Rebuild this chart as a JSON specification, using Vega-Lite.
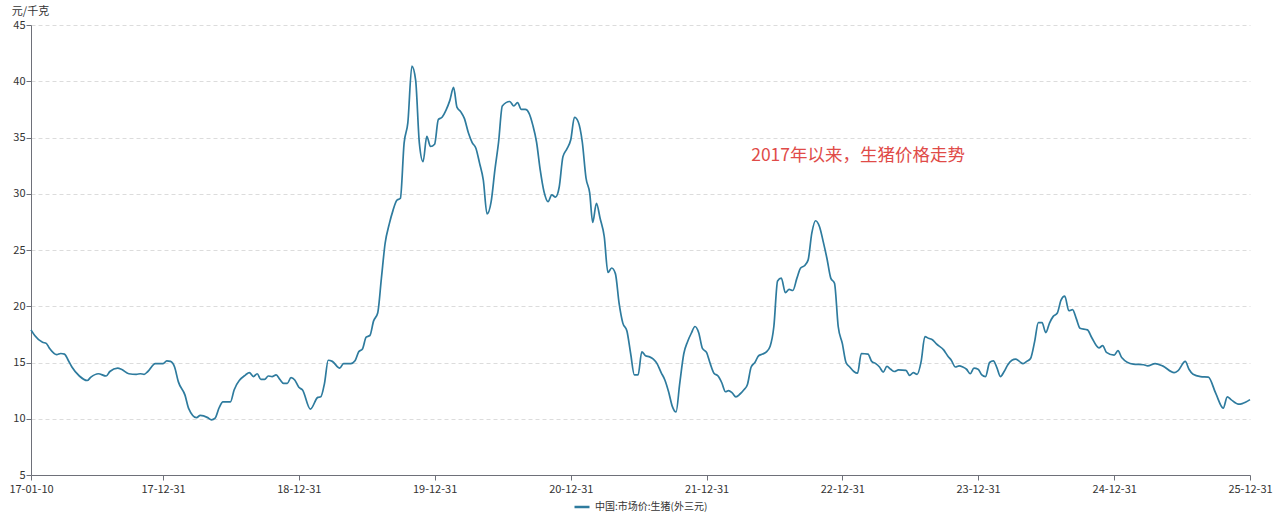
{
  "$schema": "https://vega.github.io/schema/vega-lite/v6.json",
  "width": 1219,
  "height": 450,
  "autosize": {"type": "none"},
  "padding": {"left": 31, "top": 25, "right": 28, "bottom": 41},
  "background": "white",
  "config": {
    "view": {"stroke": null},
    "font": "Noto Sans CJK SC",
    "axis": {"labelFont": "Noto Sans CJK SC", "titleFont": "Noto Sans CJK SC"}
  },
  "layer": [
    {
      "data": {"values": [
        {"date": "2017-01-10", "value": 17.9},
        {"date": "2017-01-20", "value": 17.4},
        {"date": "2017-02-10", "value": 16.8},
        {"date": "2017-02-20", "value": 16.7},
        {"date": "2017-02-28", "value": 16.3},
        {"date": "2017-03-20", "value": 15.7},
        {"date": "2017-03-31", "value": 15.8},
        {"date": "2017-04-10", "value": 15.75},
        {"date": "2017-04-20", "value": 15.2},
        {"date": "2017-04-30", "value": 14.6},
        {"date": "2017-05-20", "value": 13.8},
        {"date": "2017-06-10", "value": 13.4},
        {"date": "2017-06-20", "value": 13.7},
        {"date": "2017-07-10", "value": 14.0},
        {"date": "2017-07-31", "value": 13.8},
        {"date": "2017-08-10", "value": 14.2},
        {"date": "2017-08-31", "value": 14.5},
        {"date": "2017-09-10", "value": 14.4},
        {"date": "2017-09-30", "value": 14.0},
        {"date": "2017-10-20", "value": 13.95},
        {"date": "2017-10-31", "value": 14.0},
        {"date": "2017-11-10", "value": 13.95},
        {"date": "2017-11-20", "value": 14.2},
        {"date": "2017-12-10", "value": 14.9},
        {"date": "2017-12-31", "value": 14.9},
        {"date": "2018-01-10", "value": 15.15},
        {"date": "2018-01-20", "value": 15.1},
        {"date": "2018-01-31", "value": 14.6},
        {"date": "2018-02-10", "value": 13.3},
        {"date": "2018-02-28", "value": 12.1},
        {"date": "2018-03-10", "value": 10.9},
        {"date": "2018-03-31", "value": 10.1},
        {"date": "2018-04-10", "value": 10.3},
        {"date": "2018-04-30", "value": 10.1},
        {"date": "2018-05-10", "value": 9.9},
        {"date": "2018-05-20", "value": 10.05},
        {"date": "2018-05-31", "value": 11.0},
        {"date": "2018-06-10", "value": 11.5},
        {"date": "2018-06-30", "value": 11.5},
        {"date": "2018-07-10", "value": 12.55},
        {"date": "2018-08-10", "value": 13.9},
        {"date": "2018-08-20", "value": 14.1},
        {"date": "2018-08-31", "value": 13.75},
        {"date": "2018-09-10", "value": 14.0},
        {"date": "2018-09-20", "value": 13.5},
        {"date": "2018-09-30", "value": 13.5},
        {"date": "2018-10-10", "value": 13.8},
        {"date": "2018-10-20", "value": 13.75},
        {"date": "2018-10-31", "value": 13.9},
        {"date": "2018-11-10", "value": 13.5},
        {"date": "2018-11-20", "value": 13.15},
        {"date": "2018-11-30", "value": 13.15},
        {"date": "2018-12-10", "value": 13.65},
        {"date": "2018-12-20", "value": 13.45},
        {"date": "2018-12-31", "value": 12.8},
        {"date": "2019-01-10", "value": 12.55},
        {"date": "2019-01-31", "value": 10.85},
        {"date": "2019-02-20", "value": 11.9},
        {"date": "2019-02-28", "value": 11.95},
        {"date": "2019-03-10", "value": 13.15},
        {"date": "2019-03-20", "value": 15.2},
        {"date": "2019-03-31", "value": 15.1},
        {"date": "2019-04-20", "value": 14.5},
        {"date": "2019-04-30", "value": 14.9},
        {"date": "2019-05-20", "value": 14.9},
        {"date": "2019-05-31", "value": 15.15},
        {"date": "2019-06-10", "value": 15.95},
        {"date": "2019-06-20", "value": 16.2},
        {"date": "2019-06-30", "value": 17.25},
        {"date": "2019-07-10", "value": 17.4},
        {"date": "2019-07-20", "value": 18.7},
        {"date": "2019-07-31", "value": 19.4},
        {"date": "2019-08-10", "value": 22.5},
        {"date": "2019-08-20", "value": 25.6},
        {"date": "2019-08-31", "value": 27.3},
        {"date": "2019-09-10", "value": 28.5},
        {"date": "2019-09-20", "value": 29.4},
        {"date": "2019-09-30", "value": 29.6},
        {"date": "2019-10-10", "value": 34.5},
        {"date": "2019-10-20", "value": 36.3},
        {"date": "2019-10-31", "value": 41.35},
        {"date": "2019-11-10", "value": 40.1},
        {"date": "2019-11-20", "value": 34.5},
        {"date": "2019-11-30", "value": 32.85},
        {"date": "2019-12-10", "value": 35.1},
        {"date": "2019-12-20", "value": 34.2},
        {"date": "2019-12-31", "value": 34.4},
        {"date": "2020-01-10", "value": 36.6},
        {"date": "2020-01-20", "value": 36.8},
        {"date": "2020-01-31", "value": 37.45},
        {"date": "2020-02-10", "value": 38.3},
        {"date": "2020-02-20", "value": 39.45},
        {"date": "2020-02-29", "value": 37.7},
        {"date": "2020-03-10", "value": 37.3},
        {"date": "2020-03-20", "value": 36.7},
        {"date": "2020-03-31", "value": 35.4},
        {"date": "2020-04-10", "value": 34.55},
        {"date": "2020-04-20", "value": 34.05},
        {"date": "2020-04-30", "value": 32.7},
        {"date": "2020-05-10", "value": 31.2},
        {"date": "2020-05-20", "value": 28.2},
        {"date": "2020-05-31", "value": 29.3},
        {"date": "2020-06-10", "value": 32.1},
        {"date": "2020-06-20", "value": 34.6},
        {"date": "2020-06-30", "value": 37.8},
        {"date": "2020-07-20", "value": 38.2},
        {"date": "2020-07-31", "value": 37.8},
        {"date": "2020-08-10", "value": 38.1},
        {"date": "2020-08-20", "value": 37.5},
        {"date": "2020-08-31", "value": 37.5},
        {"date": "2020-09-10", "value": 37.15},
        {"date": "2020-09-20", "value": 36.1},
        {"date": "2020-09-30", "value": 34.6},
        {"date": "2020-10-10", "value": 32.1},
        {"date": "2020-10-20", "value": 30.2},
        {"date": "2020-10-31", "value": 29.3},
        {"date": "2020-11-10", "value": 29.9},
        {"date": "2020-11-20", "value": 29.7},
        {"date": "2020-11-30", "value": 30.6},
        {"date": "2020-12-10", "value": 33.3},
        {"date": "2020-12-20", "value": 33.95},
        {"date": "2020-12-31", "value": 34.8},
        {"date": "2021-01-10", "value": 36.8},
        {"date": "2021-01-20", "value": 36.4},
        {"date": "2021-01-31", "value": 34.6},
        {"date": "2021-02-10", "value": 31.4},
        {"date": "2021-02-20", "value": 30.05},
        {"date": "2021-02-28", "value": 27.45},
        {"date": "2021-03-10", "value": 29.15},
        {"date": "2021-03-20", "value": 27.8},
        {"date": "2021-03-31", "value": 26.2},
        {"date": "2021-04-10", "value": 23.0},
        {"date": "2021-04-20", "value": 23.4},
        {"date": "2021-04-30", "value": 22.9},
        {"date": "2021-05-10", "value": 20.25},
        {"date": "2021-05-20", "value": 18.5},
        {"date": "2021-05-31", "value": 17.8},
        {"date": "2021-06-10", "value": 15.8},
        {"date": "2021-06-20", "value": 13.9},
        {"date": "2021-06-30", "value": 13.9},
        {"date": "2021-07-10", "value": 15.95},
        {"date": "2021-07-20", "value": 15.6},
        {"date": "2021-07-31", "value": 15.5},
        {"date": "2021-08-10", "value": 15.3},
        {"date": "2021-08-20", "value": 14.9},
        {"date": "2021-08-31", "value": 14.1},
        {"date": "2021-09-10", "value": 13.45},
        {"date": "2021-09-20", "value": 12.4},
        {"date": "2021-09-30", "value": 11.1},
        {"date": "2021-10-10", "value": 10.6},
        {"date": "2021-10-20", "value": 13.15},
        {"date": "2021-10-31", "value": 15.8},
        {"date": "2021-11-10", "value": 16.85},
        {"date": "2021-11-20", "value": 17.6},
        {"date": "2021-11-30", "value": 18.2},
        {"date": "2021-12-10", "value": 17.65},
        {"date": "2021-12-20", "value": 16.25},
        {"date": "2021-12-31", "value": 15.9},
        {"date": "2022-01-10", "value": 14.9},
        {"date": "2022-01-20", "value": 14.05},
        {"date": "2022-01-31", "value": 13.8},
        {"date": "2022-02-10", "value": 13.2},
        {"date": "2022-02-20", "value": 12.4},
        {"date": "2022-02-28", "value": 12.5},
        {"date": "2022-03-10", "value": 12.3},
        {"date": "2022-03-20", "value": 11.95},
        {"date": "2022-03-31", "value": 12.2},
        {"date": "2022-04-10", "value": 12.55},
        {"date": "2022-04-20", "value": 13.05},
        {"date": "2022-04-30", "value": 14.6},
        {"date": "2022-05-10", "value": 15.0},
        {"date": "2022-05-20", "value": 15.6},
        {"date": "2022-05-31", "value": 15.75},
        {"date": "2022-06-10", "value": 15.95},
        {"date": "2022-06-20", "value": 16.45},
        {"date": "2022-06-30", "value": 18.2},
        {"date": "2022-07-10", "value": 22.25},
        {"date": "2022-07-20", "value": 22.5},
        {"date": "2022-07-31", "value": 21.2},
        {"date": "2022-08-10", "value": 21.5},
        {"date": "2022-08-20", "value": 21.4},
        {"date": "2022-08-31", "value": 22.5},
        {"date": "2022-09-10", "value": 23.4},
        {"date": "2022-09-20", "value": 23.6},
        {"date": "2022-09-30", "value": 24.1},
        {"date": "2022-10-10", "value": 26.5},
        {"date": "2022-10-20", "value": 27.6},
        {"date": "2022-10-31", "value": 27.05},
        {"date": "2022-11-10", "value": 25.7},
        {"date": "2022-11-20", "value": 24.2},
        {"date": "2022-11-30", "value": 22.5},
        {"date": "2022-12-10", "value": 22.05},
        {"date": "2022-12-20", "value": 18.2},
        {"date": "2022-12-31", "value": 16.7},
        {"date": "2023-01-10", "value": 15.0},
        {"date": "2023-01-20", "value": 14.6},
        {"date": "2023-01-31", "value": 14.2},
        {"date": "2023-02-10", "value": 14.05},
        {"date": "2023-02-20", "value": 15.8},
        {"date": "2023-03-10", "value": 15.75},
        {"date": "2023-03-20", "value": 15.1},
        {"date": "2023-03-31", "value": 14.9},
        {"date": "2023-04-10", "value": 14.6},
        {"date": "2023-04-20", "value": 14.15},
        {"date": "2023-04-30", "value": 14.65},
        {"date": "2023-05-10", "value": 14.4},
        {"date": "2023-05-20", "value": 14.2},
        {"date": "2023-05-31", "value": 14.35},
        {"date": "2023-06-20", "value": 14.3},
        {"date": "2023-06-30", "value": 13.85},
        {"date": "2023-07-10", "value": 14.1},
        {"date": "2023-07-20", "value": 13.95},
        {"date": "2023-07-31", "value": 15.1},
        {"date": "2023-08-10", "value": 17.3},
        {"date": "2023-08-20", "value": 17.15},
        {"date": "2023-08-31", "value": 17.0},
        {"date": "2023-09-10", "value": 16.65},
        {"date": "2023-09-30", "value": 16.1},
        {"date": "2023-10-10", "value": 15.6},
        {"date": "2023-10-20", "value": 15.2},
        {"date": "2023-10-31", "value": 14.6},
        {"date": "2023-11-10", "value": 14.7},
        {"date": "2023-11-20", "value": 14.6},
        {"date": "2023-11-30", "value": 14.4},
        {"date": "2023-12-10", "value": 14.0},
        {"date": "2023-12-20", "value": 14.5},
        {"date": "2023-12-31", "value": 14.4},
        {"date": "2024-01-10", "value": 13.9},
        {"date": "2024-01-20", "value": 13.75},
        {"date": "2024-01-31", "value": 15.0},
        {"date": "2024-02-10", "value": 15.15},
        {"date": "2024-02-20", "value": 14.5},
        {"date": "2024-02-29", "value": 13.75},
        {"date": "2024-03-10", "value": 14.2},
        {"date": "2024-03-20", "value": 14.8},
        {"date": "2024-03-31", "value": 15.2},
        {"date": "2024-04-10", "value": 15.3},
        {"date": "2024-04-20", "value": 15.1},
        {"date": "2024-04-30", "value": 14.9},
        {"date": "2024-05-10", "value": 15.1},
        {"date": "2024-05-20", "value": 15.35},
        {"date": "2024-05-31", "value": 16.85},
        {"date": "2024-06-10", "value": 18.55},
        {"date": "2024-06-20", "value": 18.55},
        {"date": "2024-06-30", "value": 17.65},
        {"date": "2024-07-10", "value": 18.5},
        {"date": "2024-07-20", "value": 19.1},
        {"date": "2024-07-31", "value": 19.4},
        {"date": "2024-08-10", "value": 20.55},
        {"date": "2024-08-20", "value": 20.9},
        {"date": "2024-08-31", "value": 19.6},
        {"date": "2024-09-10", "value": 19.7},
        {"date": "2024-09-20", "value": 18.9},
        {"date": "2024-09-30", "value": 18.05},
        {"date": "2024-10-20", "value": 17.9},
        {"date": "2024-10-31", "value": 17.25},
        {"date": "2024-11-20", "value": 16.3},
        {"date": "2024-11-30", "value": 16.5},
        {"date": "2024-12-10", "value": 15.9},
        {"date": "2024-12-31", "value": 15.65},
        {"date": "2025-01-10", "value": 16.05},
        {"date": "2025-01-20", "value": 15.45},
        {"date": "2025-02-20", "value": 14.85},
        {"date": "2025-03-20", "value": 14.8},
        {"date": "2025-03-31", "value": 14.7},
        {"date": "2025-04-20", "value": 14.9},
        {"date": "2025-05-10", "value": 14.7},
        {"date": "2025-06-10", "value": 14.1},
        {"date": "2025-06-20", "value": 14.25},
        {"date": "2025-07-10", "value": 15.1},
        {"date": "2025-07-20", "value": 14.4},
        {"date": "2025-07-31", "value": 13.95},
        {"date": "2025-08-20", "value": 13.75},
        {"date": "2025-09-10", "value": 13.7},
        {"date": "2025-09-30", "value": 12.25},
        {"date": "2025-10-20", "value": 10.95},
        {"date": "2025-10-31", "value": 11.95},
        {"date": "2025-11-10", "value": 11.7},
        {"date": "2025-11-30", "value": 11.3},
        {"date": "2025-12-10", "value": 11.35},
        {"date": "2025-12-31", "value": 11.7}
      ]},
      "mark": {"type": "line", "strokeWidth": 1.7, "interpolate": "monotone"},
      "encoding": {
        "x": {
          "field": "date",
          "type": "temporal",
          "scale": {
            "type": "utc",
            "nice": false,
            "domain": [
              {"year": 2017, "month": 1, "date": 10, "utc": true},
              {"year": 2025, "month": 12, "date": 31, "utc": true}
            ]
          },
          "axis": {
            "title": null,
            "grid": false,
            "values": [
              {"year": 2017, "month": 1, "date": 10, "utc": true},
              {"year": 2017, "month": 12, "date": 31, "utc": true},
              {"year": 2018, "month": 12, "date": 31, "utc": true},
              {"year": 2019, "month": 12, "date": 31, "utc": true},
              {"year": 2020, "month": 12, "date": 31, "utc": true},
              {"year": 2021, "month": 12, "date": 31, "utc": true},
              {"year": 2022, "month": 12, "date": 31, "utc": true},
              {"year": 2023, "month": 12, "date": 31, "utc": true},
              {"year": 2024, "month": 12, "date": 31, "utc": true},
              {"year": 2025, "month": 12, "date": 31, "utc": true}
            ],
            "labelExpr": "utcFormat(datum.value, '%y-%m-%d')",
            "labelFlush": false,
            "labelOverlap": false,
            "labelBound": false,
            "labelFontSize": 11,
            "labelColor": "#333333",
            "labelPadding": 3,
            "tickSize": 5,
            "tickColor": "#6e7079",
            "domainColor": "#6e7079",
            "domainWidth": 1
          }
        },
        "y": {
          "field": "value",
          "type": "quantitative",
          "scale": {"domain": [5, 45], "nice": false, "zero": false},
          "axis": {
            "values": [5, 10, 15, 20, 25, 30, 35, 40, 45],
            "title": "元/千克",
            "titleAngle": 0,
            "titleAlign": "center",
            "titleBaseline": "middle",
            "titleX": -1,
            "titleY": -14,
            "titleFontSize": 11,
            "titleFontWeight": "normal",
            "titleColor": "#333333",
            "labelFontSize": 11,
            "labelColor": "#333333",
            "labelPadding": 1,
            "tickSize": 5,
            "tickColor": "#6e7079",
            "domainColor": "#6e7079",
            "grid": true,
            "gridColor": "#dcdcdc",
            "gridDash": [4, 3],
            "gridWidth": 1
          }
        },
        "color": {
          "datum": "中国:市场价:生猪(外三元)",
          "type": "nominal",
          "scale": {"range": ["#2e7b9e"]},
          "legend": {
            "title": null,
            "orient": "none",
            "legendX": 542,
            "legendY": 473,
            "symbolType": "stroke",
            "symbolSize": 225,
            "symbolStrokeWidth": 2.5,
            "labelFontSize": 10,
            "labelColor": "#333333",
            "labelFont": "Noto Sans CJK SC",
            "padding": 0
          }
        }
      }
    },
    {
      "data": {"values": [
        {"date": "2022-04-30", "value": 33.4, "label": "2017年以来，生猪价格走势"}
      ]},
      "mark": {"type": "text", "align": "left", "baseline": "middle", "fontSize": 17.5, "color": "#e04b48", "font": "Noto Sans CJK SC"},
      "encoding": {
        "x": {"field": "date", "type": "temporal"},
        "y": {"field": "value", "type": "quantitative"},
        "text": {"field": "label"}
      }
    }
  ]
}
